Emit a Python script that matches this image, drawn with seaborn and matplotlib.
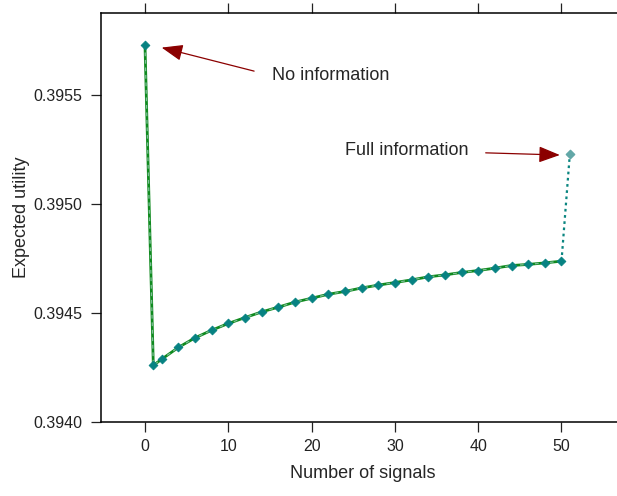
import numpy as np
import pandas as pd
import matplotlib
matplotlib.use('Agg')
import matplotlib.pyplot as plt
import seaborn as sns

# number of signals and expected utility
signals = [0, 1, 2, 4, 6, 8, 10, 12, 14, 16, 18, 20, 22, 24, 26,
           28, 30, 32, 34, 36, 38, 40, 42, 44, 46, 48, 50]
utility = [0.39573, 0.394260, 0.394288, 0.394342, 0.394386, 0.394421,
           0.394452, 0.394479, 0.394505, 0.394527, 0.394550, 0.394568,
           0.394586, 0.394599, 0.394615, 0.394628, 0.394640, 0.394652,
           0.394666, 0.394675, 0.394686, 0.394695, 0.394706, 0.394718,
           0.394723, 0.394730, 0.394738]
full_x = 51
full_y = 0.395229

yticks = [0.3940, 0.3945, 0.3950, 0.3955]
xticks = [0, 10, 20, 30, 40, 50]

sns.set_style('white')
plt.rcParams['font.family'] = ['Liberation Sans', 'DejaVu Sans']

df = pd.DataFrame({'signals': signals, 'utility': utility})
df_all = pd.concat([df, pd.DataFrame({'signals': [full_x], 'utility': [full_y]})],
                   ignore_index=True)

fig = plt.figure(figsize=(6.17, 4.96), dpi=100)
ax = fig.add_axes([0.1637, 0.1492, 0.8476, 0.8246])

# green solid curve with a light dashed overlay, dotted jump to full info
sns.lineplot(data=df, x='signals', y='utility', color='#0f8a1e', lw=2.0, ax=ax)
sns.lineplot(data=df, x='signals', y='utility', color='#7fbf9a', lw=0.9,
             linestyle=(0, (3, 3)), ax=ax)
sns.lineplot(data=df_all.iloc[-2:], x='signals', y='utility', color='#0a8580',
             lw=1.6, linestyle=(0, (1.2, 1.6)), ax=ax)
sns.scatterplot(data=df, x='signals', y='utility', marker='D', color='#078282',
                s=20, edgecolor='#078282', linewidth=0.6, ax=ax, zorder=5)
ax.scatter([full_x], [full_y], marker='D', s=18, color='#62a7a7', zorder=5)

ax.set_xlim(-5.28, 57.5)
ax.set_ylim(0.3940, 0.3958767)
ax.set_xticks(xticks)
ax.set_yticks(yticks)
ax.set_yticklabels([f'{v:.4f}' for v in yticks])
ax.tick_params(axis='both', direction='out', length=7.5, width=0.9,
               labelsize=11.5, colors='#222222', labelcolor='#222222')
ax.tick_params(axis='x', top=True, bottom=True, labeltop=False, pad=5)
ax.tick_params(axis='y', left=True, pad=6)
for sp in ax.spines.values():
    sp.set_visible(True)
    sp.set_color('black')
    sp.set_linewidth(1.1)

ax.set_xlabel('Number of signals', fontsize=13, labelpad=8)
ax.set_ylabel('Expected utility', fontsize=13, labelpad=2)

arrow = dict(arrowstyle='-|>,head_length=1.3,head_width=0.5', mutation_scale=10,
             color='#8b0000', lw=0.9, shrinkA=0, shrinkB=0)
ax.annotate('', xy=(2.0, 0.395718), xytext=(13.1, 0.395610), arrowprops=arrow)
ax.annotate('', xy=(49.8, 0.395225), xytext=(40.9, 0.395235), arrowprops=arrow)
ax.text(15.2, 0.395592, 'No information', fontsize=13, va='center', ha='left')
ax.text(24.0, 0.395247, 'Full information', fontsize=13, va='center', ha='left')

fig.savefig('out.png', dpi=100)
